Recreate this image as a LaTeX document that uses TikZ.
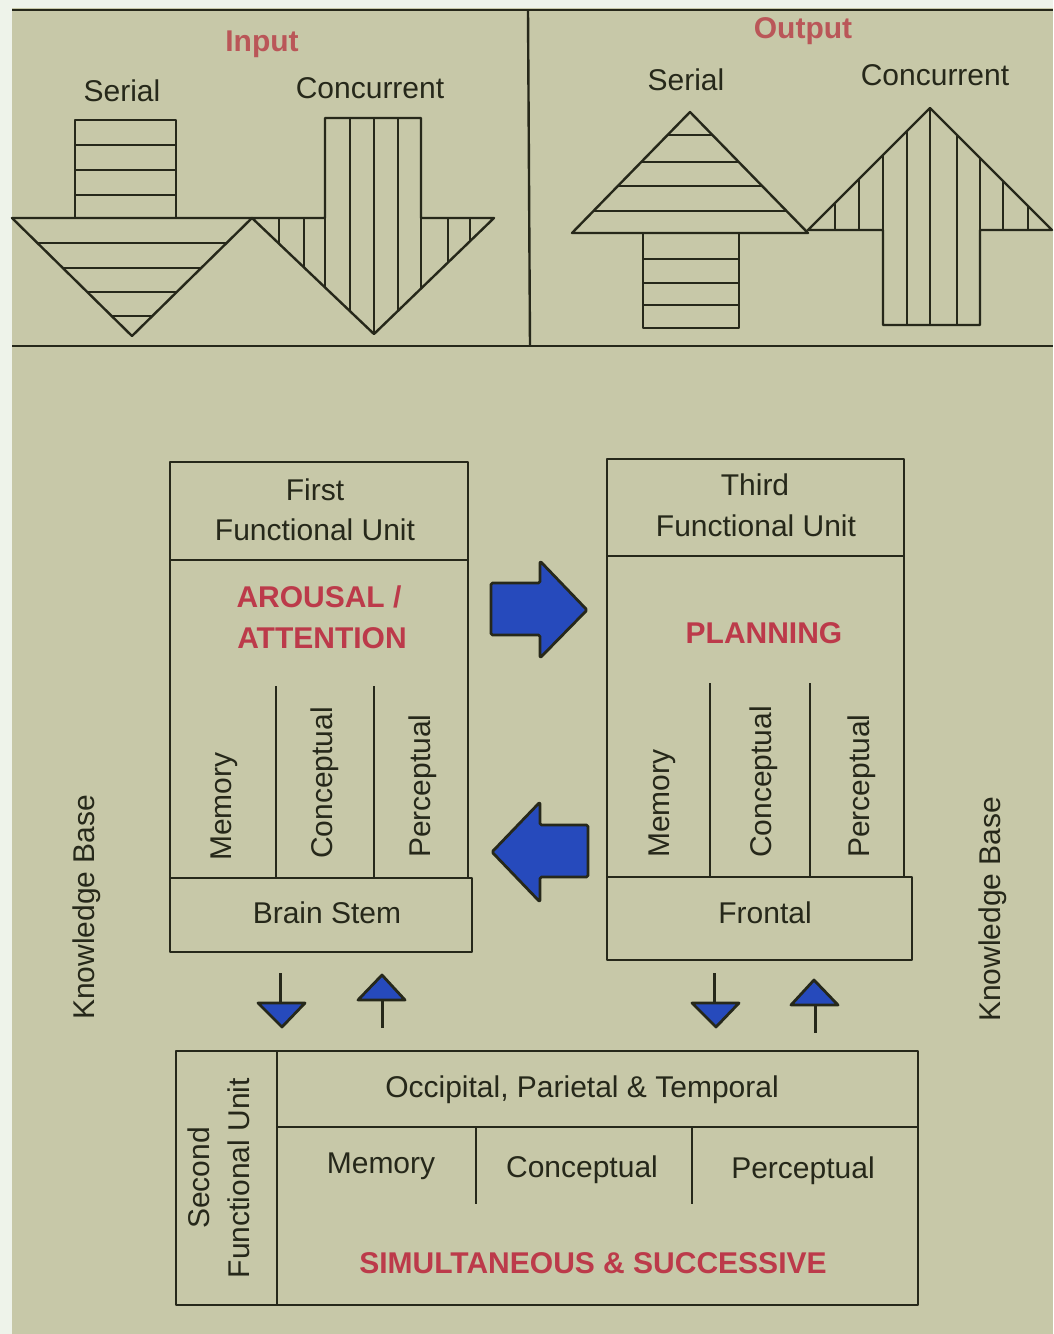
\documentclass[tikz,border=0pt]{standalone}
\usepackage{fontspec}
\setmainfont{Liberation Sans}
\definecolor{marginc}{RGB}{238,243,234}
\definecolor{paperc}{RGB}{199,200,168}
\definecolor{inkc}{RGB}{38,40,26}
\definecolor{redc}{RGB}{188,58,74}
\definecolor{redlight}{RGB}{186,86,88}
\definecolor{bluec}{RGB}{38,74,188}
\begin{document}
\begin{tikzpicture}[x=1pt,y=-1pt,line join=round]
\tikzset{
  ink/.style={draw=inkc,line width=2.4pt},
  lbl/.style={inner sep=0pt,text=inkc,font=\fontsize{30}{40}\selectfont},
  redlbl/.style={inner sep=0pt,text=redc,font=\bfseries\fontsize{30}{40}\selectfont},
  vlbl/.style={lbl,rotate=90,anchor=base west},
  blockarrow/.style={fill=bluec,draw=inkc,line width=2.8pt,line join=round},
  smallarrow/.style={fill=bluec,draw=inkc,line width=2.8pt,line join=round},
  stem/.style={draw=inkc,line width=3pt}
}
% background
\fill[marginc] (0,0) rectangle (1053,1334);
\fill[paperc] (12,8) rectangle (1053,1334);
\useasboundingbox (0,0) rectangle (1053,1334);

% top frame
\draw[ink] (12,10) -- (1053,10);
\draw[ink] (528,10) -- (530,346);
\draw[ink] (12,346) -- (1053,346);

% ---------- Input: serial (down arrow, horizontal strips)
\draw[ink] (75,120) rectangle (176,218);
\foreach \y in {145,170,195} \draw[ink] (75,\y) -- (176,\y);
\draw[ink] (12,218) -- (252,218) -- (132,336) -- cycle;
\begin{scope}
  \clip (12,218) -- (252,218) -- (132,336) -- cycle;
  \foreach \y in {243,268,292,316} \draw[ink] (0,\y) -- (260,\y);
\end{scope}

% ---------- Input: concurrent (down arrow, vertical strips)
\draw[ink] (325,218) -- (325,118) -- (421,118) -- (421,218) -- (494,218) -- (374,334) -- (252,218) -- cycle;
\foreach \x in {350,374,398} \draw[ink] (\x,118) -- (\x,218);
\begin{scope}
  \clip (252,218) -- (494,218) -- (374,334) -- cycle;
  \foreach \x in {279,304,325,350,374,398,421,448,470} \draw[ink] (\x,210) -- (\x,340);
\end{scope}

% ---------- Output: serial (up arrow, horizontal strips)
\draw[ink] (572,233) -- (808,233) -- (690,112) -- cycle;
\begin{scope}
  \clip (572,233) -- (808,233) -- (690,112) -- cycle;
  \foreach \y in {135,162,186,211} \draw[ink] (560,\y) -- (820,\y);
\end{scope}
\draw[ink] (643,233) rectangle (739,328);
\foreach \y in {259,283,305} \draw[ink] (643,\y) -- (739,\y);

% ---------- Output: concurrent (up arrow, vertical strips)
\draw[ink] (883,230) -- (883,325) -- (980,325) -- (980,230) -- (1052,230) -- (930,108) -- (808,230) -- cycle;
\foreach \x in {907,930,957} \draw[ink] (\x,325) -- (\x,230);
\begin{scope}
  \clip (808,230) -- (1052,230) -- (930,108) -- cycle;
  \foreach \x in {835,859,883,907,930,957,980,1003,1028} \draw[ink] (\x,238) -- (\x,100);
\end{scope}

% top labels
\node[redlbl,text=redlight,anchor=base] (in) at (262,51) {Input};
\node[lbl,anchor=base] (inser) at (122,101) {Serial};
\node[lbl,anchor=base] (inconc) at (370,98) {Concurrent};
\node[redlbl,text=redlight,anchor=base] (out) at (803,38) {Output};
\node[lbl,anchor=base] (outser) at (686,90) {Serial};
\node[lbl,anchor=base] (outconc) at (935,85) {Concurrent};

% ---------- First functional unit
\draw[ink] (170,462) rectangle (468,878);
\draw[ink] (170,560) -- (468,560);
\draw[ink] (170,878) rectangle (472,952);
\draw[ink] (276,686) -- (276,878);
\draw[ink] (374,686) -- (374,878);
\node[lbl,anchor=base] (f1) at (315,500) {First};
\node[lbl,anchor=base] (f2) at (315,540) {Functional Unit};
\node[redlbl,anchor=base] (ar1) at (319,607) {AROUSAL /};
\node[redlbl,anchor=base] (ar2) at (322,648) {ATTENTION};
\node[lbl,anchor=base] (bs) at (327,923) {Brain Stem};
\node[vlbl] (m1) at (231,861) {Memory};
\node[vlbl] (c1) at (332,859) {Conceptual};
\node[vlbl] (p1) at (430,858) {Perceptual};

% ---------- Third functional unit
\draw[ink] (607,459) rectangle (904,877);
\draw[ink] (607,556) -- (904,556);
\draw[ink] (607,877) rectangle (912,960);
\draw[ink] (710,683) -- (710,877);
\draw[ink] (810,683) -- (810,877);
\node[lbl,anchor=base] (t1) at (755,495) {Third};
\node[lbl,anchor=base] (t2) at (756,536) {Functional Unit};
\node[redlbl,anchor=base] (pl) at (764,643) {PLANNING};
\node[lbl,anchor=base] (fr) at (765,923) {Frontal};
\node[vlbl] (m3) at (669,858) {Memory};
\node[vlbl] (c3) at (771,858) {Conceptual};
\node[vlbl] (p3) at (869,858) {Perceptual};

% ---------- block arrows between units
\draw[blockarrow,rounded corners=1.5pt] (491,583) -- (540,583) -- (540,561) -- (587,610) -- (540,658) -- (540,635) -- (491,635) -- cycle;
\draw[blockarrow,rounded corners=1.5pt] (588,825) -- (540,825) -- (540,802) -- (492,852) -- (540,902) -- (540,877) -- (588,877) -- cycle;

% ---------- small arrows
\draw[stem] (280,973) -- (280,1003);
\draw[smallarrow] (258,1003) -- (305,1003) -- (282,1027) -- cycle;
\draw[stem] (382,1000) -- (382,1028);
\draw[smallarrow] (358,1000) -- (405,1000) -- (382,975) -- cycle;
\draw[stem] (714,973) -- (714,1003);
\draw[smallarrow] (692,1003) -- (739,1003) -- (716,1027) -- cycle;
\draw[stem] (815,1005) -- (815,1033);
\draw[smallarrow] (791,1005) -- (838,1005) -- (814,980) -- cycle;

% ---------- Second functional unit
\draw[ink] (176,1051) rectangle (918,1305);
\draw[ink] (277,1051) -- (277,1305);
\draw[ink] (277,1127) -- (918,1127);
\draw[ink] (476,1127) -- (476,1204);
\draw[ink] (692,1127) -- (692,1204);
\node[lbl,rotate=90,align=center] (su) at (219,1178) {Second\\Functional Unit};
\node[lbl,anchor=base] (opt) at (582,1097) {Occipital, Parietal \& Temporal};
\node[lbl,anchor=base] (m2) at (381,1173) {Memory};
\node[lbl,anchor=base] (c2) at (582,1177) {Conceptual};
\node[lbl,anchor=base] (p2) at (803,1178) {Perceptual};
\node[redlbl,anchor=base] (ss) at (593,1273) {SIMULTANEOUS \& SUCCESSIVE};

% ---------- Knowledge base labels
\node[vlbl] (kbl) at (94,1020) {Knowledge Base};
\node[vlbl] (kbr) at (1000,1022) {Knowledge Base};
\end{tikzpicture}
\end{document}
